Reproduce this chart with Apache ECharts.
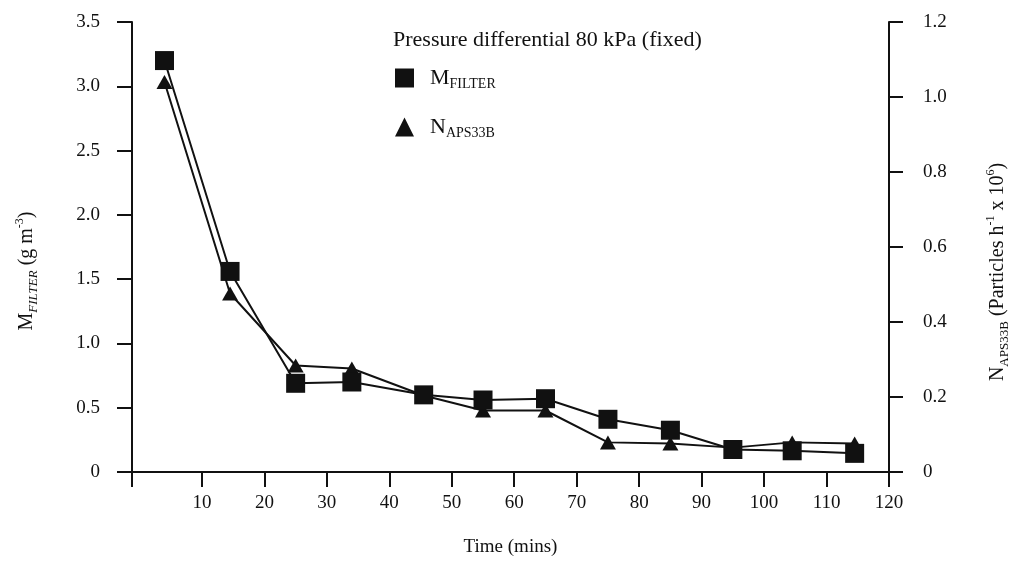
<!DOCTYPE html>
<html>
<head>
<meta charset="utf-8">
<script src="https://cdn.jsdelivr.net/npm/echarts@6/dist/echarts.min.js"></script>
<style>
  html, body { margin: 0; padding: 0; background: #fff; }
  #main { width: 1011px; height: 572px; }
</style>
</head>
<body>
<div id="main"></div>
<script>
// values
const timeMins = [4, 14.5, 25, 34, 45.5, 55, 65, 75, 85, 95, 104.5, 114.5];
const mFilter = [3.20, 1.56, 0.69, 0.70, 0.60, 0.56, 0.57, 0.41, 0.325, 0.175, 0.165, 0.145];
const nAps33b = [1.04, 0.476, 0.284, 0.276, 0.204, 0.164, 0.164, 0.079, 0.076, 0.065, 0.079, 0.076];
const timeTicks = [10, 20, 30, 40, 50, 60, 70, 80, 90, 100, 110, 120];

const FONT = 'Liberation Serif';
const X_MIN = -1.2;

function pairs(xs, ys) {
  return xs.map((x, i) => [x, ys[i]]);
}

// rich styles for sub/superscripts
const rich = {
  n: { fontFamily: FONT, fontSize: 20, color: '#111', lineHeight: 26, verticalAlign: 'middle' },
  sub: { fontFamily: FONT, fontSize: 13, color: '#111', lineHeight: 13, verticalAlign: 'bottom' },
  subi: { fontFamily: FONT, fontSize: 13, fontStyle: 'italic', color: '#111', lineHeight: 13, verticalAlign: 'bottom' },
  sup: { fontFamily: FONT, fontSize: 12, color: '#111', lineHeight: 12, verticalAlign: 'top' }
};

const legendRich = {
  n: { fontFamily: FONT, fontSize: 22, color: '#111', lineHeight: 26, verticalAlign: 'middle' },
  sub: { fontFamily: FONT, fontSize: 14, color: '#111', lineHeight: 14, verticalAlign: 'bottom' }
};

const legendText = {
  'MFILTER': '{n|M}{sub|FILTER}',
  'NAPS33B': '{n|N}{sub|APS33B}'
};

const tickFont = { fontFamily: FONT, fontSize: 19, color: '#111' };

const chart = echarts.init(document.getElementById('main'));

const option = {
  backgroundColor: '#fff',
  animation: false,
  title: {
    text: 'Pressure differential 80 kPa (fixed)',
    left: 388,
    top: 24,
    textStyle: { fontFamily: FONT, fontSize: 22, fontWeight: 'normal', color: '#111' }
  },
  legend: {
    orient: 'vertical',
    left: 390,
    top: 62,
    itemWidth: 19,
    itemHeight: 19,
    itemGap: 25,
    data: [
      { name: 'MFILTER', icon: 'rect' },
      { name: 'NAPS33B', icon: 'triangle' }
    ],
    formatter: name => legendText[name],
    textStyle: { padding: [0, 0, 0, 11], rich: legendRich }
  },
  grid: {
    left: 132, right: 122, top: 22, bottom: 100,
    containLabel: false,
    outerBoundsMode: 'none'
  },
  xAxis: {
    type: 'value',
    min: X_MIN,
    max: 120,
    name: 'Time (mins)',
    nameLocation: 'middle',
    nameGap: 66,
    nameTextStyle: { fontFamily: FONT, fontSize: 19, color: '#111' },
    splitLine: { show: false },
    axisLine: { lineStyle: { color: '#111', width: 2 } },
    axisTick: {
      length: 15,
      lineStyle: { color: '#111', width: 2 },
      customValues: [X_MIN].concat(timeTicks)
    },
    axisLabel: Object.assign({ customValues: timeTicks, margin: 22 }, tickFont)
  },
  yAxis: [{
    type: 'value',
    min: 0,
    max: 3.5,
    interval: 0.5,
    position: 'left',
    name: '{n|M}{subi|FILTER}{n| (g m}{sup|-3}{n|)}',
    nameLocation: 'middle',
    nameRotate: 90,
    nameGap: 92,
    // extra right padding pushes the rotated name down a bit
    nameTextStyle: { rich: rich, padding: [0, 48, 0, 0] },
    splitLine: { show: false },
    axisLine: { show: true, onZero: false, lineStyle: { color: '#111', width: 2 } },
    axisTick: { show: true, length: 15, lineStyle: { color: '#111', width: 2 } },
    axisLabel: Object.assign({
      margin: 32,
      formatter: v => v === 0 ? '0' : v.toFixed(1)
    }, tickFont)
  }, {
    type: 'value',
    min: 0,
    max: 1.2,
    interval: 0.2,
    position: 'right',
    name: '{n|N}{sub|APS33B}{n| (Particles h}{sup|-1}{n| x 10}{sup|6}{n|)}',
    nameLocation: 'middle',
    nameRotate: 90,
    nameGap: 96,
    nameTextStyle: { rich: rich, padding: [0, 50, 0, 0] },
    splitLine: { show: false },
    axisLine: { show: true, onZero: false, lineStyle: { color: '#111', width: 2 } },
    axisTick: { show: true, length: 14, lineStyle: { color: '#111', width: 2 } },
    axisLabel: Object.assign({
      margin: 34,
      formatter: v => v === 0 ? '0' : v.toFixed(1)
    }, tickFont)
  }],
  series: [{
    // triangles go under the squares
    name: 'NAPS33B',
    type: 'line',
    yAxisIndex: 1,
    data: pairs(timeMins, nAps33b),
    symbol: 'triangle',
    symbolSize: [16, 14],
    lineStyle: { color: '#111', width: 2 },
    itemStyle: { color: '#111' }
  }, {
    name: 'MFILTER',
    type: 'line',
    yAxisIndex: 0,
    data: pairs(timeMins, mFilter),
    symbol: 'rect',
    symbolSize: 19,
    lineStyle: { color: '#111', width: 2 },
    itemStyle: { color: '#111' }
  }]
};

chart.setOption(option);
</script>
</body>
</html>
